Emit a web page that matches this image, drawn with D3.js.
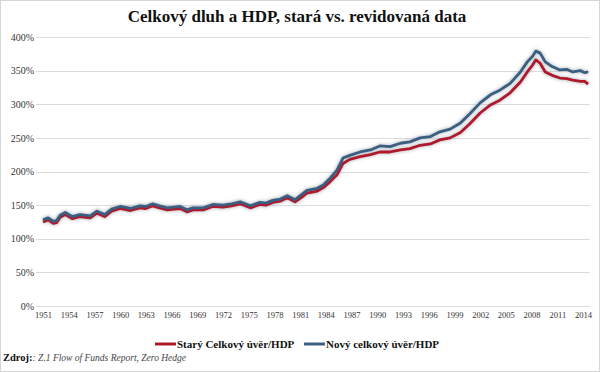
<!DOCTYPE html>
<html>
<head>
<meta charset="utf-8">
<script src="https://cdn.jsdelivr.net/npm/d3@7"></script>
<style>
  body { margin: 0; background: #fff; }
  .axis text { font-family: "Liberation Serif", "DejaVu Serif", serif; fill: #333; }
  .axis.y text { font-size: 10px; }
  .axis.x text { font-size: 8.5px; }
  .axis path, .axis line { display: none; }
  .grid line { stroke: #dcdcdc; stroke-width: 1; }
</style>
</head>
<body>
<div class="c_chart"></div>
<script>
/* DATA
------------------------------------------------------ */
const years = [1951.0, 1951.6, 1952.2, 1952.6, 1953.0, 1953.6, 1954.4, 1955.3, 1956.5, 1957.3,
  1958.2, 1959.0, 1960.0, 1961.2, 1962.3, 1963.0, 1963.8, 1964.6, 1965.5, 1966.3,
  1967.0, 1967.8, 1968.5, 1969.7, 1970.8, 1972.0, 1973.0, 1974.0, 1975.2, 1976.3,
  1977.0, 1977.8, 1978.7, 1979.5, 1980.4, 1981.2, 1981.8, 1983.0, 1983.7, 1984.5,
  1985.3, 1986.0, 1986.8, 1988.0, 1989.2, 1990.3, 1991.5, 1992.7, 1993.8, 1995.0,
  1996.2, 1997.3, 1998.5, 1999.7, 2000.8, 2002.0, 2003.2, 2004.3, 2005.5, 2006.7,
  2007.5, 2008.1, 2008.5, 2009.0, 2009.6, 2010.4, 2011.3, 2012.1, 2012.8, 2013.7,
  2014.2, 2014.6];

// Starý Celkový úvěr/HDP (%)
const oldRatio = [125, 128, 123, 124, 132, 136, 130, 133, 131, 138,
  133, 141, 145, 142, 146, 145, 149, 146, 143, 144,
  145, 140, 143, 143, 148, 147, 149, 152, 146, 151,
  150, 154, 156, 161, 155, 162, 168, 171, 176, 185,
  195, 212, 218, 222, 225, 229, 229, 232, 234, 239,
  241, 247, 250, 258, 271, 287, 299, 306, 317, 333,
  348, 358, 366, 361, 348, 343, 339, 338, 336, 334,
  334, 330];

// Nový celkový úvěr/HDP (%)
const newRatio = [128, 131, 126, 127, 135, 139, 133, 136, 134, 141,
  136, 144, 148, 145, 149, 148, 152, 149, 146, 147,
  148, 143, 146, 146, 151, 150, 152, 155, 149, 154,
  153, 157, 159, 164, 158, 166, 172, 175, 180, 190,
  202, 220, 224, 229, 232, 238, 237, 242, 244, 250,
  252, 259, 263, 272, 286, 302, 314, 321, 331, 348,
  363, 371, 379, 376, 363, 356, 351, 352, 348, 350,
  347, 348];

const yTicks = [0, 50, 100, 150, 200, 250, 300, 350, 400];
const xTicks = d3.range(1951, 2015, 3);

const seriesNames = ["Starý Celkový úvěr/HDP", "Nový celkový úvěr/HDP"];
const seriesColors = ["#b0192c", "#3b5f80"];

/* SVG
------------------------------------------------------ */
const width = 600;
const height = 372;

const svg = d3.select(".c_chart")
  .append("svg")
  .attr("width", width)
  .attr("height", height);

// blur for the soft line shadow
const defs = svg.append("defs");
defs.append("filter")
  .attr("id", "glow")
  .attr("x", "-5%").attr("y", "-20%").attr("width", "110%").attr("height", "140%")
  .append("feGaussianBlur")
  .attr("stdDeviation", 1.6);

svg.append("rect")
  .attr("x", 0.5).attr("y", 0.5)
  .attr("width", width - 1).attr("height", height - 1)
  .attr("fill", "#fff")
  .attr("stroke", "#d6d6d6");

/* SCALES
------------------------------------------------------ */
const x = d3.scaleLinear().domain([1951, 2014]).range([43, 583]);
const y = d3.scaleLinear().domain([0, 400]).range([306, 37]);

/* GRID + AXES
------------------------------------------------------ */
svg.append("g")
  .attr("class", "grid")
  .selectAll("line")
  .data(yTicks)
  .join("line")
  .attr("x1", 36)
  .attr("x2", 590)
  .attr("y1", d => Math.round(y(d)) + 0.5)
  .attr("y2", d => Math.round(y(d)) + 0.5);

svg.append("g")
  .attr("class", "axis y")
  .attr("transform", "translate(34,0)")
  .call(d3.axisLeft(y).tickValues(yTicks).tickSize(0).tickPadding(0).tickFormat(d => d + "%"));

svg.append("g")
  .attr("class", "axis x")
  .attr("transform", "translate(0,307)")
  .call(d3.axisBottom(x).tickValues(xTicks).tickSize(0).tickPadding(5).tickFormat(d3.format("d")));

/* LINES
------------------------------------------------------ */
const series = [oldRatio, newRatio].map((vals, i) => ({
  name: seriesNames[i],
  color: seriesColors[i],
  values: years.map((yr, j) => ({ year: yr, v: vals[j] }))
}));

const line = d3.line()
  .x(d => x(d.year))
  .y(d => y(d.v))
  .curve(d3.curveLinear);

const lines = svg.append("g");

lines.selectAll("path.shadow")
  .data(series)
  .join("path")
  .attr("class", "shadow")
  .attr("d", d => line(d.values))
  .attr("fill", "none")
  .attr("stroke", "#9aa4ad")
  .attr("stroke-opacity", 0.5)
  .attr("stroke-width", 5)
  .attr("filter", "url(#glow)");

lines.selectAll("path.serie")
  .data(series)
  .join("path")
  .attr("class", "serie")
  .attr("d", d => line(d.values))
  .attr("fill", "none")
  .attr("stroke", d => d.color)
  .attr("stroke-width", 2.8)
  .attr("stroke-linejoin", "round");

/* TITLE
------------------------------------------------------ */
svg.append("text")
  .attr("x", 297)
  .attr("y", 22)
  .attr("text-anchor", "middle")
  .style("font-family", "'Liberation Serif', serif")
  .style("font-weight", "bold")
  .style("font-size", "17px")
  .style("fill", "#111")
  .text("Celkový dluh a HDP, stará vs. revidovaná data");

/* LEGEND
------------------------------------------------------ */
const legendX = [155, 304];
const legend = svg.append("g");
series.forEach((s, i) => {
  legend.append("line")
    .attr("x1", legendX[i]).attr("x2", legendX[i] + 21)
    .attr("y1", 344).attr("y2", 344)
    .attr("stroke", s.color)
    .attr("stroke-width", 3);
  legend.append("text")
    .attr("x", legendX[i] + 22)
    .attr("y", 347.5)
    .style("font-family", "'Liberation Serif', serif")
    .style("font-weight", "bold")
    .style("font-size", "11px")
    .style("fill", "#111")
    .text(s.name);
});

/* SOURCE
------------------------------------------------------ */
const src = svg.append("text")
  .attr("x", 3)
  .attr("y", 361)
  .style("font-family", "'Liberation Serif', serif")
  .style("fill", "#111");
src.append("tspan")
  .style("font-weight", "bold")
  .style("font-size", "10.5px")
  .text("Zdroj:");
src.append("tspan")
  .style("font-style", "italic")
  .style("font-size", "9.5px")
  .style("fill", "#444")
  .text(": Z.1 Flow of Funds Report, Zero Hedge");
</script>
</body>
</html>
